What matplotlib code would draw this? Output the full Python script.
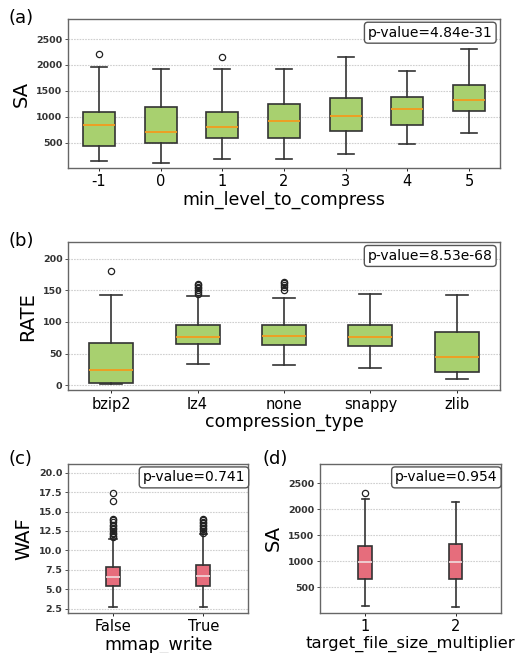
import matplotlib
matplotlib.use("Agg")
import matplotlib.pyplot as plt
from matplotlib.ticker import FormatStrFormatter

# ---------------- data ----------------
# (a) SA vs min_level_to_compress
a_labels = ["-1", "0", "1", "2", "3", "4", "5"]
a_whislo = [140, 114, 178, 185, 288, 474, 693]
a_q1 = [442, 487, 596, 590, 732, 834, 1105]
a_med = [841, 712, 809, 924, 1008, 1143, 1317]
a_q3 = [1085, 1182, 1098, 1246, 1362, 1381, 1619]
a_whishi = [1966, 1921, 1921, 1921, 2159, 1889, 2314]
a_fliers = [[2204], [], [2146], [], [], [], []]

# (b) RATE vs compression_type
b_labels = ["bzip2", "lz4", "none", "snappy", "zlib"]
b_whislo = [1.6, 33.7, 32.1, 27.4, 10.0]
b_q1 = [3.2, 64.7, 63.2, 61.6, 21.6]
b_med = [23.7, 76.8, 78.4, 76.8, 44.7]
b_q3 = [66.3, 95.3, 94.7, 94.7, 84.2]
b_whishi = [142.6, 141.0, 138.4, 144.7, 142.6]
b_fliers = [[181], [145, 148, 150, 153, 156, 158, 160],
            [151, 155, 158, 161, 163], [], []]

# (c) WAF vs mmap_write
c_labels = ["False", "True"]
c_whislo = [2.67, 2.75]
c_q1 = [5.42, 5.38]
c_med = [6.61, 6.70]
c_q3 = [7.90, 8.12]
c_whishi = [11.5, 12.1]
c_fliers = [[11.7, 11.9, 12.1, 12.3, 12.5, 12.7, 12.9, 13.1, 13.3, 13.6,
             13.9, 14.1, 16.3, 17.4],
            [12.3, 12.5, 12.7, 12.9, 13.1, 13.3, 13.5, 13.7, 13.9, 14.0]]

# (d) SA vs target_file_size_multiplier
d_labels = ["1", "2"]
d_whislo = [139, 113]
d_q1 = [654, 667]
d_med = [987, 990]
d_q3 = [1296, 1323]
d_whishi = [2191, 2145]
d_fliers = [[2307], []]

pvals = ["p-value=4.84e-31", "p-value=8.53e-68", "p-value=0.741", "p-value=0.954"]

GREEN = "#a8d06f"
RED = "#e66d7c"
ORANGE = "#f39a1e"
LIGHTMED = "#efd3d6"


def make_stats(labels, lo, q1, med, q3, hi, fl):
    return [dict(label=l, whislo=a, q1=b, med=c, q3=d, whishi=e, fliers=f)
            for l, a, b, c, d, e, f in zip(labels, lo, q1, med, q3, hi, fl)]


def draw(ax, stats, width, face, medc, ylim, yticks, yfmt, xlabel, ylabel, pv,
         xlabsize=12.5):
    ax.bxp(stats, widths=width, patch_artist=True,
           boxprops=dict(facecolor=face, edgecolor="#333333", linewidth=1.2),
           medianprops=dict(color=medc, linewidth=1.3),
           whiskerprops=dict(color="#333333", linewidth=1.2),
           capprops=dict(color="#333333", linewidth=1.2),
           flierprops=dict(marker="o", markerfacecolor="none",
                           markeredgecolor="#222222", markersize=4.5,
                           markeredgewidth=0.9))
    ax.set_ylim(*ylim)
    ax.set_yticks(yticks)
    if yfmt:
        ax.yaxis.set_major_formatter(FormatStrFormatter(yfmt))
    ax.yaxis.grid(True, linestyle=(0, (1.5, 1)), color="#cfcfcf", linewidth=0.8)
    ax.set_axisbelow(True)
    ax.tick_params(axis="y", labelsize=6.8, length=2.5, width=0.6, pad=1.5,
                   colors="#333333")
    ax.tick_params(axis="x", labelsize=10.5, length=2.5, width=0.6, pad=2)
    for lab in ax.get_yticklabels():
        lab.set_fontweight("bold")
    ax.set_xlabel(xlabel, fontsize=xlabsize, labelpad=1)
    ax.set_ylabel(ylabel, fontsize=14, labelpad=4)
    for s in ax.spines.values():
        s.set_color("#666666")
        s.set_linewidth(1.0)
    ax.text(0.983, 0.955, pv, transform=ax.transAxes, ha="right", va="top",
            fontsize=10, zorder=5,
            bbox=dict(boxstyle="round,pad=0.25", fc="white", ec="#555555",
                      lw=1.0))


fig = plt.figure(figsize=(5.2, 6.53), dpi=100)
W, H = 520, 653


def axes_px(l, r, t, b):
    return fig.add_axes([l / W, (H - b) / H, (r - l) / W, (b - t) / H])


ax_a = axes_px(68, 500, 19, 168)
ax_b = axes_px(68, 500, 242.3, 390.3)
ax_c = axes_px(68, 248.3, 463.7, 612.7)
ax_d = axes_px(320, 500.7, 463.7, 612.7)

draw(ax_a, make_stats(a_labels, a_whislo, a_q1, a_med, a_q3, a_whishi, a_fliers),
     0.52, GREEN, ORANGE, (12, 2886), [500, 1000, 1500, 2000, 2500], None,
     "min_level_to_compress", "SA", pvals[0])
draw(ax_b, make_stats(b_labels, b_whislo, b_q1, b_med, b_q3, b_whishi, b_fliers),
     0.51, GREEN, ORANGE, (-8, 226), [0, 50, 100, 150, 200], None,
     "compression_type", "RATE", pvals[1])
draw(ax_c, make_stats(c_labels, c_whislo, c_q1, c_med, c_q3, c_whishi, c_fliers),
     0.16, RED, LIGHTMED, (1.98, 21.16),
     [2.5, 5.0, 7.5, 10.0, 12.5, 15.0, 17.5, 20.0], "%.1f",
     "mmap_write", "WAF", pvals[2])
draw(ax_d, make_stats(d_labels, d_whislo, d_q1, d_med, d_q3, d_whishi, d_fliers),
     0.15, RED, LIGHTMED, (8, 2880), [500, 1000, 1500, 2000, 2500], None,
     "target_file_size_multiplier", "SA", pvals[3], xlabsize=11.8)

for txt, x, y in [("(a)", 8, 18), ("(b)", 8, 241), ("(c)", 8, 459), ("(d)", 262, 459)]:
    fig.text(x / W, 1 - y / H, txt, fontsize=13, ha="left", va="center")

fig.savefig("out.png", dpi=100)
